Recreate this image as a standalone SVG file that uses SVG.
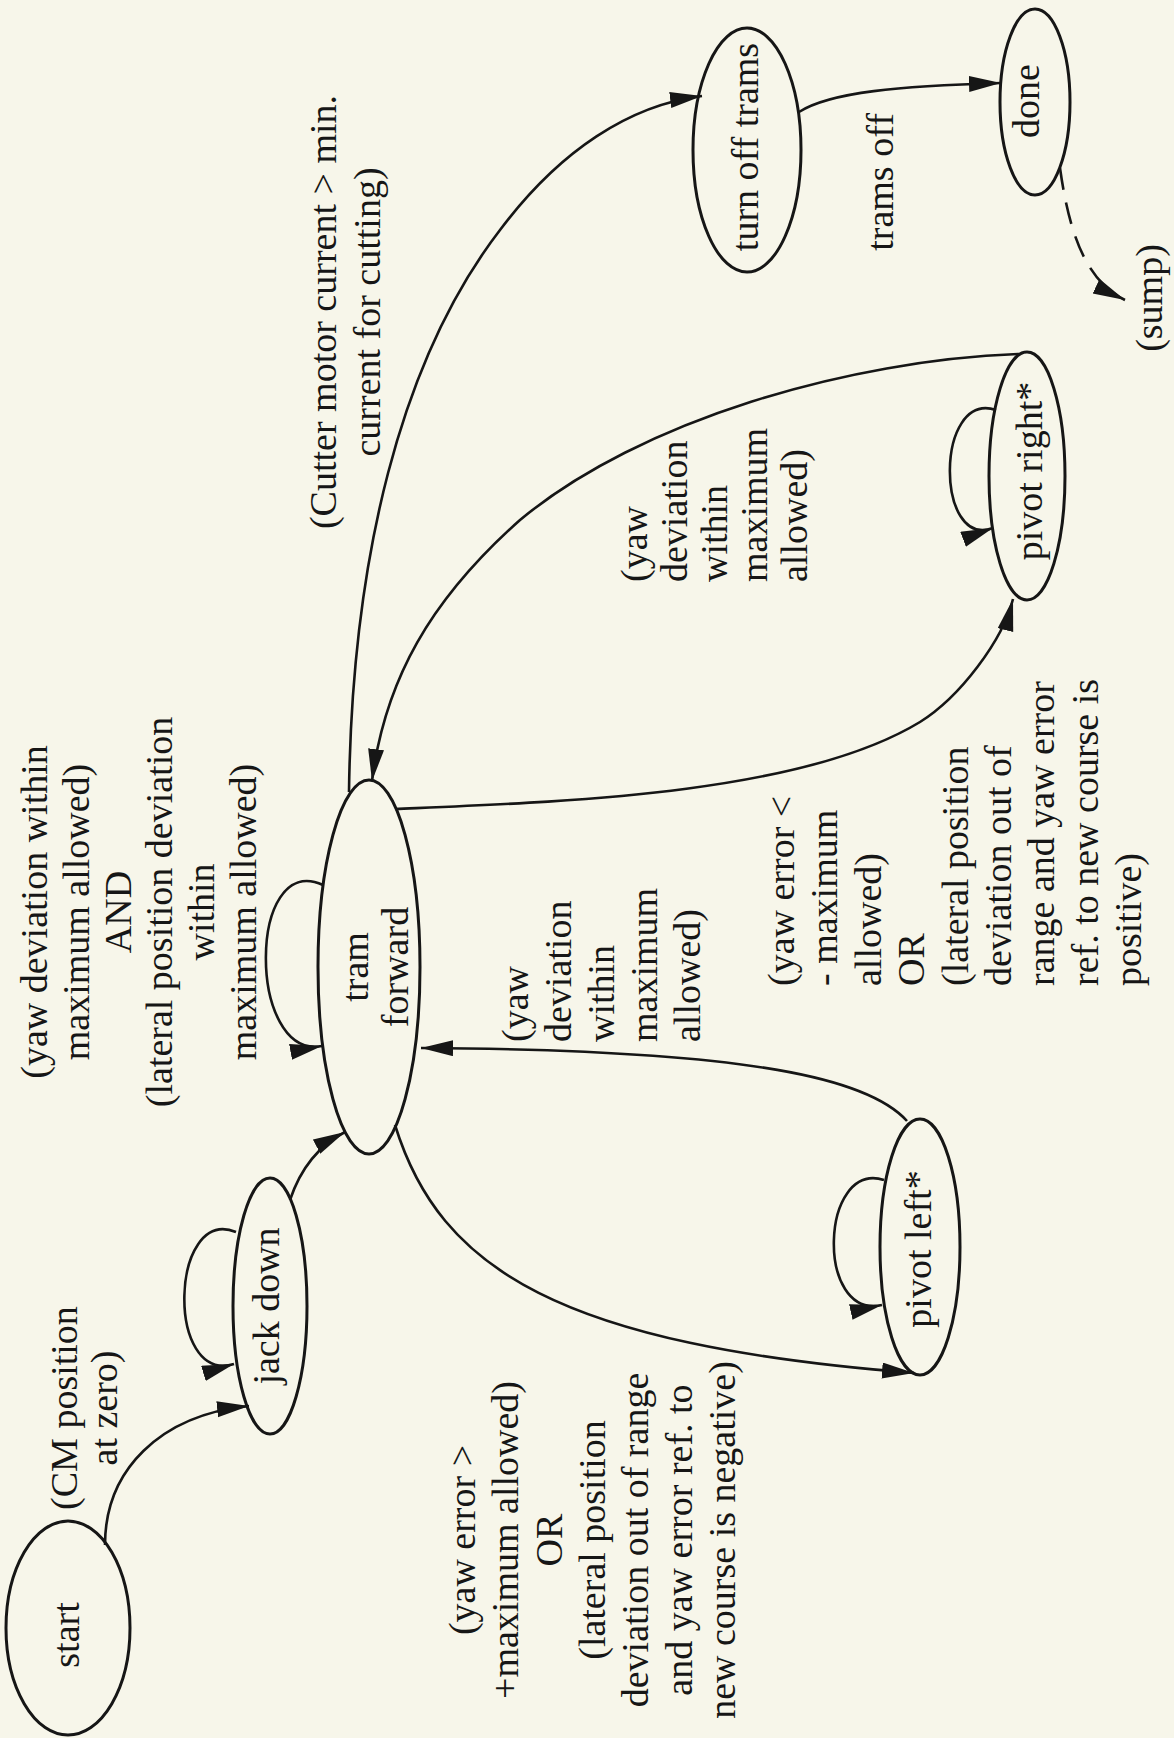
<svg xmlns="http://www.w3.org/2000/svg" width="1174" height="1738" viewBox="0 0 1174 1738">
  <defs>
    <marker id="arrow" markerUnits="userSpaceOnUse" markerWidth="34" markerHeight="18" refX="32" refY="8" orient="auto">
      <path d="M0,0 L32,8 L0,16 Z" fill="#161616"/>
    </marker>
  </defs>
  <style>
    .node { fill: none; stroke: #161616; stroke-width: 3; }
    .edge { fill: none; stroke: #161616; stroke-width: 2.6; }
    .dash { stroke-dasharray: 22 13; }
    text { font-family: "Liberation Serif", "Times New Roman", serif; font-size: 38px; fill: #161616; }
    .c { text-anchor: middle; }
    .s { text-anchor: start; }
  </style>

  <rect width="1174" height="1738" fill="#f7f6ea"/>

  <!-- states (the whole chart reads rotated, bottom to top) -->
  <g id="start">
    <ellipse class="node" cx="68" cy="1628" rx="62" ry="107"/>
    <text class="c" transform="translate(79,1635) rotate(-90)">start</text>
  </g>
  <g id="jack-down">
    <ellipse class="node" cx="270" cy="1306" rx="37" ry="128"/>
    <text class="c" transform="translate(279,1306) rotate(-90)">jack down</text>
  </g>
  <g id="tram-forward">
    <ellipse class="node" cx="369" cy="967" rx="51" ry="187"/>
    <text class="c" transform="translate(368,967) rotate(-90)">tram<tspan x="0" dy="40">forward</tspan></text>
  </g>
  <g id="pivot-left">
    <ellipse class="node" cx="920" cy="1247" rx="40" ry="128"/>
    <text class="c" transform="translate(931,1249) rotate(-90)">pivot left*</text>
  </g>
  <g id="pivot-right">
    <ellipse class="node" cx="1027" cy="476" rx="38" ry="124"/>
    <text class="c" transform="translate(1042,471) rotate(-90)">pivot right*</text>
  </g>
  <g id="turn-off-trams">
    <ellipse class="node" cx="747" cy="150" rx="54" ry="122"/>
    <text class="c" transform="translate(758,147) rotate(-90)">turn off trams</text>
  </g>
  <g id="done">
    <ellipse class="node" cx="1035" cy="102" rx="35" ry="93"/>
    <text class="c" transform="translate(1039,101) rotate(-90)">done</text>
  </g>

  <!-- transitions -->
  <g id="connectors">
    <path class="edge" marker-end="url(#arrow)" d="M105,1545 C105,1470 160,1415 249,1406"/>
    <path class="edge" marker-end="url(#arrow)" d="M236,1232 C170,1205 165,1385 234,1364"/>
    <path class="edge" marker-end="url(#arrow)" d="M290,1200 C300,1170 318,1146 345,1132"/>
    <path class="edge" marker-end="url(#arrow)" d="M323,885 C247,850 247,1060 322,1046"/>
    <path class="edge" marker-end="url(#arrow)" d="M395,1125 C440,1270 560,1345 914,1373"/>
    <path class="edge" marker-end="url(#arrow)" d="M907,1121 C870,1080 760,1050 421,1048"/>
    <path class="edge" marker-end="url(#arrow)" d="M884,1180 C820,1160 815,1320 882,1305"/>
    <path class="edge" marker-end="url(#arrow)" d="M395,809 C560,802 800,795 920,722 C960,697 1003,640 1013,599"/>
    <path class="edge" marker-end="url(#arrow)" d="M1019,354 C850,360 640,420 520,520 C430,600 385,680 372,781"/>
    <path class="edge" marker-end="url(#arrow)" d="M996,410 C935,390 935,550 993,528"/>
    <path class="edge" marker-end="url(#arrow)" d="M349,792 C352,560 400,360 500,230 C560,150 630,105 702,96"/>
    <path class="edge" marker-end="url(#arrow)" d="M799,112 C830,92 900,86 1001,83"/>
    <path class="edge dash" marker-end="url(#arrow)" d="M1060,168 C1068,225 1083,280 1125,300"/>
  </g>

  <!-- transition conditions -->
  <g id="labels">
    <text class="c" transform="translate(77,1408) rotate(-90)">(CM position<tspan x="0" dy="40">at zero)</tspan></text>
    <text class="c" transform="translate(47,912) rotate(-90)">(yaw deviation within<tspan x="0" dy="41.8">maximum allowed)</tspan><tspan x="0" dy="41.8">AND</tspan><tspan x="0" dy="41.8">(lateral position deviation</tspan><tspan x="0" dy="41.8">within</tspan><tspan x="0" dy="41.8">maximum allowed)</tspan></text>
    <text class="c" transform="translate(336,312) rotate(-90)">(Cutter motor current &gt; min.<tspan x="0" dy="44">current for cutting)</tspan></text>
    <text class="s" transform="translate(528,1042) rotate(-90)">(yaw<tspan x="0" dy="43">deviation</tspan><tspan x="0" dy="43">within</tspan><tspan x="0" dy="43">maximum</tspan><tspan x="0" dy="43">allowed)</tspan></text>
    <text class="s" transform="translate(794,986) rotate(-90)">(yaw error &lt;<tspan x="0" dy="43.4">- maximum</tspan><tspan x="0" dy="43.4">allowed)</tspan><tspan x="0" dy="43.4">OR</tspan><tspan x="0" dy="43.4">(lateral position</tspan><tspan x="0" dy="43.4">deviation out of</tspan><tspan x="0" dy="43.4">range and yaw error</tspan><tspan x="0" dy="43.4">ref. to new course is</tspan><tspan x="0" dy="43.4">positive)</tspan></text>
    <text class="s" transform="translate(647,582) rotate(-90)">(yaw<tspan x="0" dy="40">deviation</tspan><tspan x="0" dy="40">within</tspan><tspan x="0" dy="40">maximum</tspan><tspan x="0" dy="40">allowed)</tspan></text>
    <text class="c" transform="translate(475,1540) rotate(-90)">(yaw error &gt;<tspan x="0" dy="43.3">+maximum allowed)</tspan><tspan x="0" dy="43.3">OR</tspan><tspan x="0" dy="43.3">(lateral position</tspan><tspan x="0" dy="43.3">deviation out of range</tspan><tspan x="0" dy="43.3">and yaw error ref. to</tspan><tspan x="0" dy="43.3">new course is negative)</tspan></text>
    <text class="c" transform="translate(893,182) rotate(-90)">trams off</text>
    <text class="c" transform="translate(1162,298) rotate(-90)">(sump)</text>
  </g>
</svg>
